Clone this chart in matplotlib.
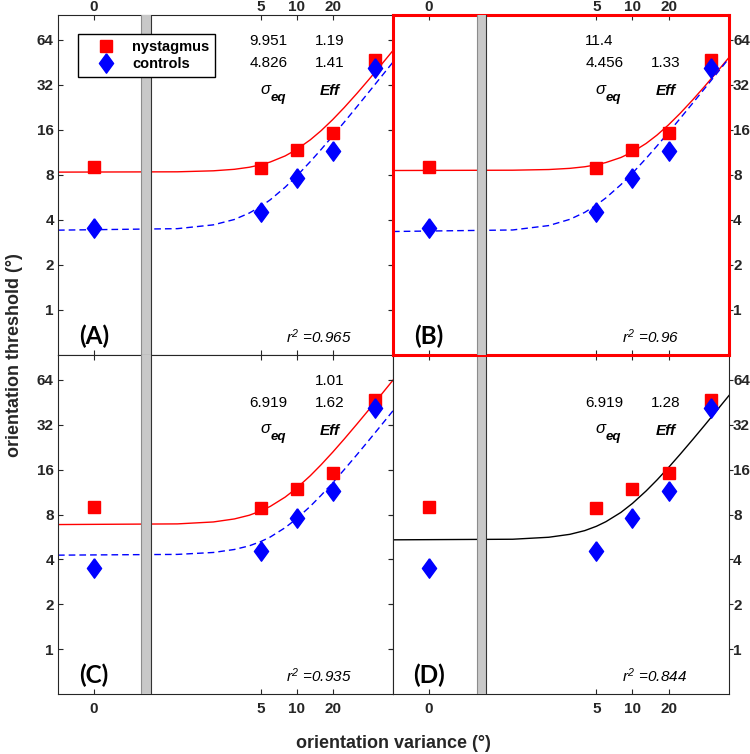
import matplotlib
matplotlib.use('Agg')
import matplotlib.pyplot as plt
from matplotlib.ticker import FixedLocator, FixedFormatter, NullLocator

plt.rcParams['font.family'] = ['Liberation Sans', 'DejaVu Sans']
plt.rcParams['mathtext.fontset'] = 'custom'
plt.rcParams['mathtext.it'] = 'Liberation Sans:italic'
plt.rcParams['mathtext.rm'] = 'Liberation Sans:italic'

# measured thresholds
variance = [0, 5, 10, 20, 45]
nystagmus = [9.05, 8.9, 11.8, 15.2, 47.0]
controls = [3.52, 4.55, 7.6, 11.5, 41.5]

x_ticks = [0, 5, 10, 20]
x_tick_labels = ['0', '5', '10', '20']
y_ticks = [1, 2, 4, 8, 16, 32, 64]
y_tick_labels = ['1', '2', '4', '8', '16', '32', '64']

# fitted curves
fit_x = [0.1, 1, 2, 3, 4, 5, 6, 8, 10, 13, 16, 20, 25, 32, 40, 50, 64]
fit_a_nys = [8.36, 8.40, 8.53, 8.73, 9.01, 9.36, 9.77, 10.73, 11.86, 13.76, 15.83, 18.77, 22.61, 28.16, 34.64, 42.84, 54.43]
fit_a_con = [3.42, 3.50, 3.71, 4.03, 4.45, 4.93, 5.46, 6.63, 7.88, 9.84, 11.85, 14.59, 18.06, 22.95, 28.58, 35.63, 45.52]
fit_b_nys = [8.57, 8.61, 8.70, 8.86, 9.08, 9.36, 9.69, 10.47, 11.40, 13.00, 14.77, 17.31, 20.66, 25.54, 31.27, 38.56, 48.88]
fit_b_con = [3.35, 3.43, 3.67, 4.04, 4.50, 5.04, 5.62, 6.89, 8.23, 10.33, 12.49, 15.41, 19.09, 24.29, 30.26, 37.74, 48.24]
fit_c_nys = [6.85, 6.92, 7.13, 7.47, 7.91, 8.45, 9.07, 10.47, 12.04, 14.58, 17.26, 20.95, 25.68, 32.42, 40.19, 49.98, 63.74]
fit_c_con = [4.27, 4.32, 4.45, 4.66, 4.93, 5.27, 5.65, 6.53, 7.51, 9.09, 10.76, 13.06, 16.01, 20.21, 25.06, 31.16, 39.74]
fit_d_all = [5.41, 5.46, 5.63, 5.89, 6.24, 6.67, 7.16, 8.26, 9.50, 11.51, 13.62, 16.53, 20.27, 25.58, 31.71, 39.44, 50.29]

panel_labels = ['(A)', '(B)', '(C)', '(D)']
sigma_top = ['9.951', '11.4', '', '']
sigma_bottom = ['4.826', '4.456', '6.919', '6.919']
eff_top = ['1.19', '', '1.01', '']
eff_bottom = ['1.41', '1.33', '1.62', '1.28']
r_squared = ['0.965', '0.96', '0.935', '0.844']

ZERO_POS = 0.2  # where "0" sits on the log axis
RED = '#ff0000'
BLUE = '#0000ff'
DIAMOND = [(0, 1), (0.73, 0), (0, -1), (-0.73, 0), (0, 1)]


def xpos(v):
    return v if v > 0 else ZERO_POS


W, H = 750, 754
fig = plt.figure(figsize=(W / 100, H / 100), dpi=100)

rects = {
    'A': [58 / W, (H - 355) / H, 335 / W, 340 / H],
    'B': [393 / W, (H - 355) / H, 336 / W, 340 / H],
    'C': [58 / W, (H - 694) / H, 335 / W, 339 / H],
    'D': [393 / W, (H - 694) / H, 336 / W, 339 / H],
}
fits = {
    'A': [(fit_a_nys, RED, '-'), (fit_a_con, BLUE, (0, (4.8, 2.9)))],
    'B': [(fit_b_nys, RED, '-'), (fit_b_con, BLUE, (0, (4.8, 2.9)))],
    'C': [(fit_c_nys, RED, '-'), (fit_c_con, BLUE, (0, (4.8, 2.9)))],
    'D': [(fit_d_all, 'black', '-')],
}

for key in ['A', 'C', 'D', 'B']:
    idx = 'ABCD'.index(key)
    ax = fig.add_axes(rects[key])
    ax.set_xscale('log')
    ax.set_yscale('log')
    ax.set_xlim(0.1, 64)
    ax.set_ylim(0.5, 94)

    for fy, color, ls in fits[key]:
        ax.plot(fit_x, fy, color=color, linestyle=ls, lw=1.0, zorder=2)

    ax.axvspan(0.5, 0.6, color='#c8c8c8', lw=0, zorder=3)
    ax.axvline(0.5, color='0.55', lw=0.8, zorder=3)
    ax.axvline(0.6, color='0.2', lw=0.8, zorder=3)

    xs = [xpos(v) for v in variance]
    ax.plot(xs, nystagmus, linestyle='none', marker='s', ms=9, color=RED,
            zorder=5, label='nystagmus')
    ax.plot(xs, controls, linestyle='none', marker=DIAMOND, ms=14, color=BLUE,
            zorder=5, label='controls')

    ax.xaxis.set_major_locator(FixedLocator([xpos(v) for v in x_ticks]))
    ax.xaxis.set_major_formatter(FixedFormatter(x_tick_labels))
    ax.xaxis.set_minor_locator(NullLocator())
    ax.yaxis.set_major_locator(FixedLocator(y_ticks))
    ax.yaxis.set_major_formatter(FixedFormatter(y_tick_labels))
    ax.yaxis.set_minor_locator(NullLocator())

    top = key in 'AB'
    left = key in 'AC'
    ax.tick_params(axis='x', which='both', direction='in', top=True, bottom=True,
                   labeltop=top, labelbottom=not top, length=3.5, width=0.8,
                   color='0.15', labelsize=11, pad=1.0 if top else 6)
    ax.tick_params(axis='y', which='both', direction='in' if left else 'out',
                   left=True, right=True, labelleft=left, labelright=not left,
                   length=3.5 if left else 2.8, width=0.8, color='0.15',
                   labelsize=11, pad=3 if left else 0.2)
    for lab in ax.get_xticklabels() + ax.get_yticklabels():
        lab.set_fontweight('bold')
        lab.set_color('0.15')

    for sp in ax.spines.values():
        sp.set_color('0.15')
        sp.set_linewidth(0.8)
    if key == 'B':
        for sp in ax.spines.values():
            sp.set_color(RED)
            sp.set_linewidth(2.2)

    # fit parameter annotations
    tr = ax.transAxes
    ax.text(0.572, 0.923, sigma_top[idx], transform=tr, fontsize=11, va='center')
    ax.text(0.768, 0.923, eff_top[idx], transform=tr, fontsize=11, va='center')
    ax.text(0.572, 0.858, sigma_bottom[idx], transform=tr, fontsize=11, va='center')
    ax.text(0.768, 0.858, eff_bottom[idx], transform=tr, fontsize=11, va='center')
    ax.text(0.603, 0.782, '\u03c3', transform=tr, fontsize=12, style='italic', va='center')
    ax.text(0.634, 0.757, 'eq', transform=tr, fontsize=9.5, style='italic',
            fontweight='bold', va='center')
    ax.text(0.782, 0.776, 'Eff', transform=tr, fontsize=11, style='italic',
            fontweight='bold', va='center')
    ax.text(0.682, 0.055, r'$r^2$ =' + r_squared[idx], transform=tr, fontsize=11,
            style='italic', va='center')
    ax.text(0.107, 0.056, panel_labels[idx], transform=tr, fontsize=17.5,
            fontweight='bold', family=['Lato', 'DejaVu Sans'], ha='center', va='center')

    if key == 'A':
        leg = ax.legend(loc='upper left', bbox_to_anchor=(0.06, 0.944), borderaxespad=0,
                        fancybox=False, edgecolor='black', framealpha=1,
                        prop={'weight': 'bold', 'size': 10.5}, handletextpad=0.3,
                        borderpad=0.4, labelspacing=0.2, handlelength=3.0)
        leg.get_frame().set_linewidth(1.0)

fig.text(15 / W, 1 - 355 / H, 'orientation threshold (\u00b0)', rotation=90,
         ha='center', va='center', fontsize=13, fontweight='bold', color='0.15')
fig.text(393 / W, 1 - 744 / H, 'orientation variance (\u00b0)', ha='center',
         va='center', fontsize=13, fontweight='bold', color='0.15')

fig.savefig('out.png', dpi=100)
